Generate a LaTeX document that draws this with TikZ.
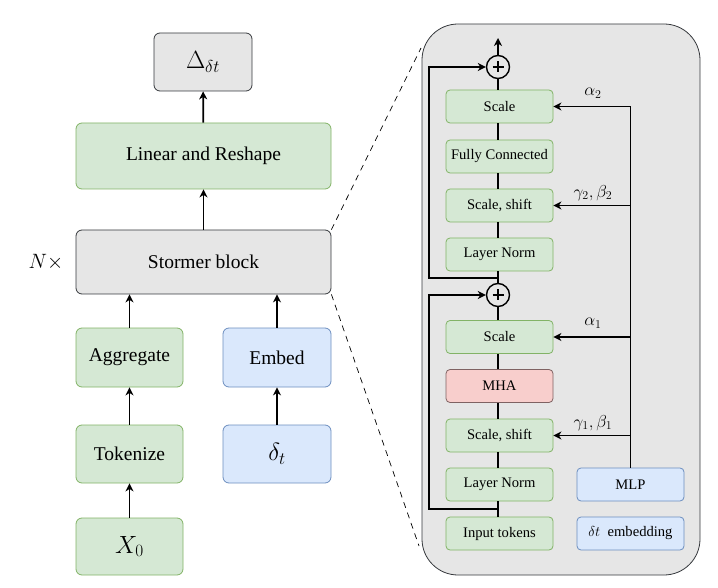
\documentclass[tikz,border=0pt]{standalone}
\usepackage[no-math]{fontspec}
\setmainfont{Liberation Serif}
\usetikzlibrary{arrows.meta,calc}
\definecolor{gfill}{HTML}{D5E8D4}
\definecolor{gdraw}{HTML}{82B366}
\definecolor{bfill}{HTML}{DAE8FC}
\definecolor{bdraw}{HTML}{6C8EBF}
\definecolor{rfill}{HTML}{F8CECC}
\definecolor{rdraw}{HTML}{7F6262}
\definecolor{kfill}{HTML}{E6E6E6}
\definecolor{kdraw}{HTML}{36393D}
\tikzset{
  bigbox/.style={rounded corners=6pt, line width=0.8pt, font=\fontsize{19.5}{22}\selectfont, inner sep=0pt},
  smallbox/.style={rounded corners=4pt, line width=0.8pt, font=\fontsize{14.6}{17}\selectfont, inner sep=0pt, minimum width=107pt, minimum height=33pt},
  grn/.style={fill=gfill, draw=gdraw},
  blu/.style={fill=bfill, draw=bdraw},
  red/.style={fill=rfill, draw=rdraw},
  gry/.style={fill=kfill, draw=kdraw},
  conn/.style={line width=1.7pt, draw=black},
  arr/.style={conn, -{Stealth[length=8pt,width=8pt,inset=2.5pt]}},
  plusnode/.style={circle, draw=black, line width=1.4pt, minimum size=23pt, inner sep=0pt},
  lbl/.style={font=\fontsize{16.5}{19}\selectfont, inner sep=0pt},
}
\begin{document}
\begin{tikzpicture}[x=1pt,y=-1pt]
\useasboundingbox (0,0) rectangle (718,588);
% left column
\node[bigbox,gry,minimum width=98pt,minimum height=58pt,font=\fontsize{24}{26}\selectfont] (delta) at (203,62) {$\Delta_{\delta t}$};
\node[bigbox,grn,minimum width=255pt,minimum height=66pt] (linear) at (203.5,156) {Linear and Reshape};
\node[bigbox,gry,minimum width=255pt,minimum height=64pt] (stormer) at (203.5,262) {Stormer block};
\node[font=\fontsize{22}{24}\selectfont] (nx) at (46,262) {$N\times$};
\node[bigbox,grn,minimum width=107pt,minimum height=59pt] (aggr) at (129.5,357.5) {Aggregate};
\node[bigbox,grn,minimum width=107pt,minimum height=58pt] (token) at (129.5,454) {Tokenize};
\node[bigbox,grn,minimum width=107pt,minimum height=57pt,font=\fontsize{26}{28}\selectfont] (x0) at (129.5,546.5) {$X_0$};
\node[bigbox,blu,minimum width=108pt,minimum height=59pt] (embed) at (277,357.5) {Embed};
\node[bigbox,blu,minimum width=108pt,minimum height=58pt,font=\fontsize{26}{28}\selectfont] (dt) at (277,454) {$\delta_t$};
\draw[arr] (linear) -- (delta);
\draw[arr] (stormer) -- (linear);
\draw[arr] (aggr) -- (aggr |- stormer.south);
\draw[arr] (embed) -- (embed |- stormer.south);
\draw[arr] (token) -- (aggr);
\draw[arr] (x0) -- (token);
\draw[arr] (dt) -- (embed);
% panel
\draw[fill=kfill, draw=kdraw, line width=0.8pt, rounded corners=36pt] (422,24) rectangle (700,575);
\coordinate (dtop) at (421,48);
\coordinate (dbot) at (419,546);
\draw[line width=0.7pt, dash pattern=on 6pt off 5pt] (stormer.north east) -- (dtop);
\draw[line width=0.7pt, dash pattern=on 6pt off 5pt] (stormer.south east) -- (dbot);
\node[smallbox,grn] (scale2) at (499.5,106.5) {Scale};
\node[smallbox,grn] (fc) at (499.5,156.5) {Fully Connected};
\node[smallbox,grn] (ss2) at (499.5,205.5) {Scale, shift};
\node[smallbox,grn] (ln2) at (499.5,254.5) {Layer Norm};
\node[smallbox,grn] (scale1) at (499.5,337) {Scale};
\node[smallbox,red] (mha) at (499.5,386) {MHA};
\node[smallbox,grn] (ss1) at (499.5,435.5) {Scale, shift};
\node[smallbox,grn] (ln1) at (499.5,484.5) {Layer Norm};
\node[smallbox,grn] (input) at (499.5,533.5) {Input tokens};
\node[smallbox,blu] (mlp) at (630.5,484.5) {MLP};
\node[smallbox,blu] (dtemb) at (630.5,533.5) {$\delta t$\ \ embedding};
\node[plusnode] (plus2) at (498,67) {};
\node[plusnode] (plus1) at (498,295) {};
\foreach \p in {plus1,plus2}{
  \draw[line width=1.4pt] ($(\p)+(-5.5,0)$) -- ($(\p)+(5.5,0)$);
  \draw[line width=1.4pt] ($(\p)+(0,-5.5)$) -- ($(\p)+(0,5.5)$);
}
\coordinate (out) at (498,38);
% main path
\draw[conn] (input.north -| plus1) -- (ln1.south -| plus1);
\draw[conn] (ln1.north -| plus1) -- (ss1.south -| plus1);
\draw[conn] (ss1.north -| plus1) -- (mha.south -| plus1);
\draw[conn] (mha.north -| plus1) -- (scale1.south -| plus1);
\draw[conn] (scale1.north -| plus1) -- (plus1.south);
\draw[conn] (plus1.north) -- (ln2.south -| plus1);
\draw[conn] (ln2.north -| plus1) -- (ss2.south -| plus1);
\draw[conn] (ss2.north -| plus1) -- (fc.south -| plus1);
\draw[conn] (fc.north -| plus1) -- (scale2.south -| plus1);
\draw[conn] (scale2.north -| plus1) -- (plus2.south);
\draw[arr] (plus2.north) -- (out);
% residuals
\coordinate (r1) at (498,509);
\coordinate (r1l) at (429,509);
\coordinate (r2) at (498,278);
\coordinate (r2l) at (429,278);
\draw[arr] (r1) -- (r1l) |- (plus1.west);
\draw[arr] (r2) -- (r2l) |- (plus2.west);
% conditioning
\draw[arr] (mlp.north) |- (scale2.east);
\draw[arr] (mlp.north |- ss2.east) -- (ss2.east);
\draw[arr] (mlp.north |- scale1.east) -- (scale1.east);
\draw[arr] (mlp.north |- ss1.east) -- (ss1.east);
\node[lbl] (la2) at (593,93) {$\alpha_2$};
\node[lbl] (lgb2) at (593,193) {$\gamma_2,\beta_2$};
\node[lbl] (la1) at (593,323) {$\alpha_1$};
\node[lbl] (lgb1) at (593,423) {$\gamma_1,\beta_1$};
\end{tikzpicture}
\end{document}
